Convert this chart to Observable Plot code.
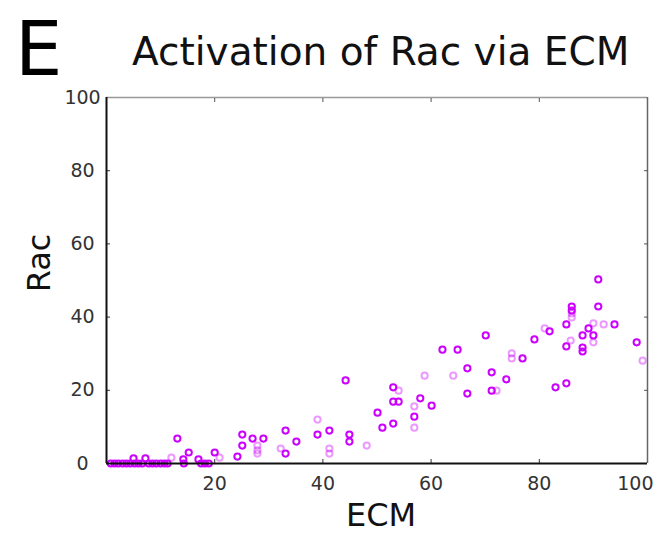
<!DOCTYPE html>
<html><head><meta charset="utf-8">
<script src="https://cdn.jsdelivr.net/npm/d3@7"></script>
<script src="https://cdn.jsdelivr.net/npm/@observablehq/plot@0.6"></script>
<style>body{margin:0;background:#fff;} svg{display:block;}</style>
</head><body><div id="chart"></div>
<script>
// Strong (fully coloured) points
const ecmBright = [0.8,1.5,2.2,3.0,3.7,4.4,5.2,5.9,6.6,7.8,8.5,9.2,10.0,10.7,11.3,14.3,17.5,18.2,18.9,
  5.0,7.2,13.1,14.2,15.2,17.0,20.0,24.2,25.1,25.1,27.0,29.0,33.1,33.1,35.1,39.0,41.2,44.2,44.9,44.9,
  50.1,51.0,53.0,53.0,54.0,53.0,56.9,58.0,60.1,62.1,64.9,66.7,66.7,70.1,71.2,71.2,73.9,76.9,79.1,
  81.9,83.0,85.0,85.0,85.0,86.0,86.0,88.0,88.0,88.0,89.1,90.0,90.9,90.9,93.9,98.0];
const racBright = [0,0,0,0,0,0,0,0,0,0,0,0,0,0,0,0,0,0,0,
  1.4,1.4,6.8,1.1,3.0,1.1,3.0,1.9,7.9,4.9,6.8,6.8,9.0,2.7,6.0,7.9,9.0,22.7,7.9,6.0,
  13.9,9.8,20.8,16.9,16.9,10.9,12.8,17.8,15.8,31.1,31.1,26.0,19.1,35.0,24.9,19.9,23.0,28.7,33.9,
  36.1,20.8,38.0,32.0,21.9,42.9,41.8,35.0,31.7,30.6,36.9,35.0,50.3,42.9,38.0,33.1];
// Faint (light) points
const ecmFaint = [12.0,20.9,27.9,27.9,27.9,32.2,39.0,41.2,41.2,48.1,54.0,56.9,56.9,58.8,64.1,72.1,
  74.9,74.9,81.0,85.8,86.0,86.0,90.0,90.0,91.9,99.1];
const racFaint = [1.6,1.6,4.9,3.6,2.7,4.1,12.0,4.1,2.7,4.9,19.9,15.6,9.8,24.0,24.0,19.9,
  30.1,28.7,36.9,33.6,41.0,39.9,38.3,33.1,38.0,28.1];
// Axis ticks
const yTicks = [0,20,40,60,80,100];
const xTicks = [20,40,60,80];
const xLastTick = [100];
const innerTicks = [20,40,60,80];

const bright = ecmBright.map((x,i)=>({ecm:x, rac:racBright[i]}));
const faint = ecmFaint.map((x,i)=>({ecm:x, rac:racFaint[i]}));
const col = "#cc00ff";

const svg = Plot.plot({
  width:658, height:534,
  marginLeft:106, marginRight:11, marginTop:97, marginBottom:71,
  style:{fontFamily:"DejaVu Sans", background:"white", overflow:"visible"},
  x:{domain:[0,100]}, y:{domain:[0,100]},
  marks:[
    Plot.ruleY([100],{stroke:"#999",strokeWidth:1.5}),
    Plot.ruleX([100],{stroke:"#666",strokeWidth:1.5}),
    Plot.axisX(innerTicks,{anchor:"top",tickSize:-4,tickFormat:()=>"",label:null,stroke:"#555"}),
    Plot.axisY(innerTicks,{anchor:"right",tickSize:-4,tickFormat:()=>"",label:null,stroke:"#555"}),
    Plot.axisX(innerTicks,{anchor:"bottom",tickSize:-4,tickFormat:()=>"",label:null,stroke:"#333"}),
    Plot.axisY(innerTicks,{anchor:"left",tickSize:-4,tickFormat:()=>"",label:null,stroke:"#333"}),
    Plot.dot(faint,{x:"ecm",y:"rac",r:3.1,stroke:col,strokeOpacity:0.4,strokeWidth:2}),
    Plot.dot(bright,{x:"ecm",y:"rac",r:3.1,stroke:col,strokeWidth:2}),
    Plot.ruleX([0],{stroke:"#111",strokeWidth:2}),
    Plot.ruleY([0],{stroke:"#111",strokeWidth:2}),
    Plot.axisY(yTicks,{anchor:"left",tickSize:0,tickPadding:24,textAnchor:"middle",fontSize:19,fill:"#333",label:null}),
    Plot.axisX(xTicks,{anchor:"bottom",tickSize:0,tickPadding:13,fontSize:19,fill:"#333",label:null}),
    Plot.axisX(xLastTick,{anchor:"bottom",tickSize:0,tickPadding:13,fontSize:19,fill:"#333",label:null,textAnchor:"end",dx:6})
  ]
});
document.getElementById("chart").appendChild(svg);
const s = d3.select(svg);
s.append("text").attr("x",15).attr("y",75).attr("text-anchor","start").attr("font-size",75).attr("font-family","DejaVu Sans").attr("fill","#000").text("E");
s.append("text").attr("x",132).attr("y",65).attr("text-anchor","start").attr("font-size",39).attr("font-family","DejaVu Sans").attr("fill","#111").text("Activation of Rac via ECM");
s.append("text").attr("x",381).attr("y",526).attr("text-anchor","middle").attr("font-size",32).attr("font-family","DejaVu Sans").attr("fill","#111").text("ECM");
s.append("text").attr("transform","translate(50,263) rotate(-90)").attr("text-anchor","middle").attr("font-size",32).attr("font-family","DejaVu Sans").attr("fill","#111").text("Rac");
</script>
</body></html>
